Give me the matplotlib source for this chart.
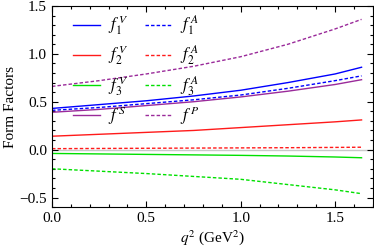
import matplotlib
matplotlib.use("Agg")
import matplotlib.pyplot as plt
from matplotlib.ticker import MultipleLocator
import matplotlib.ticker as mt

plt.rcParams['font.family'] = ['Liberation Serif', 'DejaVu Serif']
plt.rcParams['mathtext.fontset'] = 'stix'

q2 = [0.0, 0.25, 0.5, 0.75, 1.0, 1.25, 1.5, 1.64]
f1V = [0.43, 0.47, 0.51, 0.56, 0.62, 0.70, 0.79, 0.86]
f1A = [0.41, 0.44, 0.48, 0.52, 0.57, 0.64, 0.72, 0.77]
f2V = [0.14, 0.16, 0.18, 0.20, 0.23, 0.26, 0.29, 0.31]
f2A = [0.010, 0.012, 0.014, 0.016, 0.018, 0.020, 0.023, 0.025]
f3V = [-0.040, -0.045, -0.050, -0.055, -0.060, -0.067, -0.077, -0.085]
f3A = [-0.20, -0.225, -0.25, -0.28, -0.31, -0.365, -0.42, -0.46]
fS = [0.39, 0.42, 0.46, 0.50, 0.55, 0.61, 0.68, 0.73]
fP = [0.66, 0.72, 0.79, 0.87, 0.97, 1.10, 1.26, 1.36]

blue = '#0000ff'
red = '#ff1a1a'
green = '#00e000'
purple = '#9a2a9a'
dash = (0, (2.5, 1.5))

fig = plt.figure(figsize=(3.74, 2.48), dpi=100)
ax = fig.add_axes([0.139, 0.165, 0.858, 0.811])

ax.axhline(0, color='#c8c8c8', lw=1.0, zorder=1)
lw = 1.0
h1V, = ax.plot(q2, f1V, color=blue, lw=lw, label='$f_1^{\\,V}$')
h2V, = ax.plot(q2, f2V, color=red, lw=lw, label='$f_2^{\\,V}$')
h3V, = ax.plot(q2, f3V, color=green, lw=lw, label='$f_3^{\\,V}$')
hS, = ax.plot(q2, fS, color=purple, lw=lw, label='$f^{\\,S}$')
h1A, = ax.plot(q2, f1A, color=blue, lw=lw, ls=dash, label='$f_1^{\\,A}$')
h2A, = ax.plot(q2, f2A, color=red, lw=lw, ls=dash, label='$f_2^{\\,A}$')
h3A, = ax.plot(q2, f3A, color=green, lw=lw, ls=dash, label='$f_3^{\\,A}$')
hP, = ax.plot(q2, fP, color=purple, lw=lw, ls=dash, label='$f^{\\,P}$')

ax.set_xlim(0, 1.7)
ax.set_ylim(-0.6, 1.5)
ax.xaxis.set_major_locator(MultipleLocator(0.5))
ax.xaxis.set_minor_locator(MultipleLocator(0.1))
ax.yaxis.set_major_locator(MultipleLocator(0.5))
ax.yaxis.set_minor_locator(MultipleLocator(0.1))
ax.tick_params(which='both', direction='in', top=True, right=True, labelsize=11, width=0.8)
ax.tick_params(which='major', length=4)
ax.tick_params(which='minor', length=2)
ax.xaxis.set_major_formatter(mt.FormatStrFormatter('%.1f'))
ax.yaxis.set_major_formatter(mt.FuncFormatter(lambda v, p: ('\u2212%.1f' % -v) if v < 0 else '%.1f' % v))
for s in ax.spines.values():
    s.set_linewidth(0.8)

ax.set_xlabel('$q^2$ (GeV$^2$)', fontsize=11, labelpad=2)
ax.set_ylabel('Form Factors', fontsize=11, labelpad=2)

leg = ax.legend(handles=[h1V, h2V, h3V, hS, h1A, h2A, h3A, hP], ncol=2, frameon=False,
                loc='upper left', bbox_to_anchor=(0.03, 1.02), fontsize=12,
                handlelength=1.6, handletextpad=0.5, labelspacing=0.4, columnspacing=1.0,
                borderaxespad=0.3)

fig.savefig('out.png', dpi=100)
